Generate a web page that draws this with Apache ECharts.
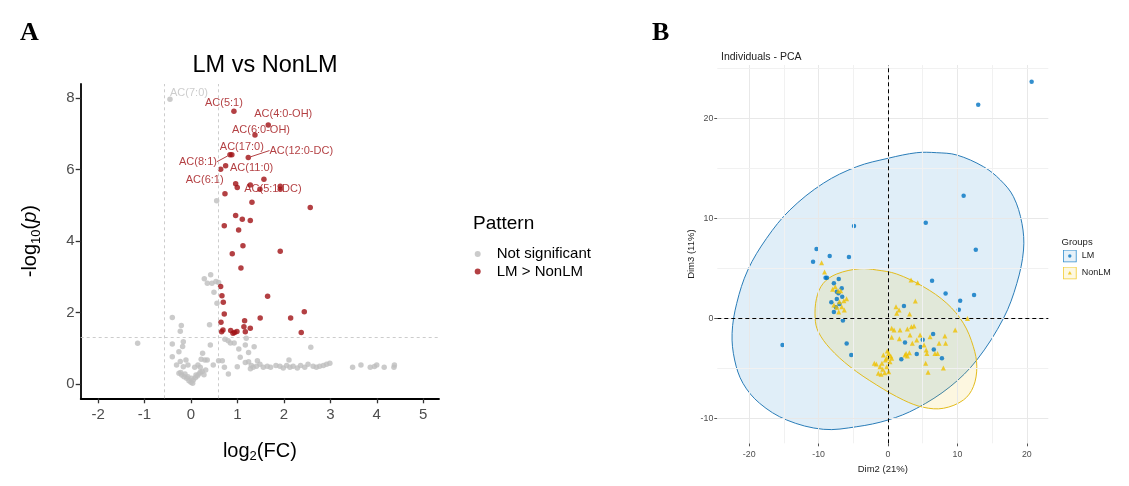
<!DOCTYPE html>
<html><head><meta charset="utf-8">
<script src="https://cdn.jsdelivr.net/npm/echarts@6/dist/echarts.min.js"></script>
<style>html,body{margin:0;padding:0;background:#fff}#c{width:1129px;height:486px}</style>
</head><body><div id="c"></div>
<script>
// ---------- Panel A: volcano data ----------
const volcanoXTicks = [-2, -1, 0, 1, 2, 3, 4, 5];
const volcanoYTicks = [0, 2, 4, 6, 8];
const fcCut = [-0.585, 0.585];
const pCut = [1.301];
const notSigPoints = [
  [-0.452,7.97],[0.553,5.13],
  [0.287,2.95],[0.424,3.06],[0.352,2.82],[0.452,2.82],[0.538,2.87],[0.595,2.84],[0.495,2.57],[0.56,2.26],
  [-0.402,1.86],[-0.208,1.64],[-0.23,1.48],[0.40,1.66],
  [-1.148,1.14],[-0.402,1.12],[-0.165,1.18],[-0.18,1.05],[0.417,1.09],[-0.26,0.905],[-0.402,0.765],[-0.108,0.67],
  [-0.31,0.53],[-0.165,0.48],[-0.065,0.53],[-0.23,0.63],[0.25,0.86],[0.22,0.69],[0.30,0.67],[0.35,0.67],[0.48,0.53],
  [0.15,0.53],[0.2,0.47],[0.08,0.47],[0.317,0.39],[0.24,0.35],[0.28,0.26],
  [-0.258,0.298],[-0.2,0.25],[-0.15,0.205],[-0.093,0.159],[-0.043,0.094],[0,0.047],[0.036,0.019],[0.05,0.112],
  [0.093,0.177],[0.136,0.224],[0.172,0.28],[0.108,0.25],[0.014,0.159],[-0.065,0.205],[-0.129,0.28],[-0.22,0.32],[0.2,0.33],
  [0.595,0.65],[0.674,0.65],[0.72,0.47],[0.806,0.28],[0.73,1.25],[0.80,1.21],[0.85,1.15],[0.93,1.15],[1.03,0.98],
  [1.17,1.09],[1.19,1.28],[1.24,0.88],[1.36,1.04],[1.06,0.75],[1.17,0.60],[1.24,0.62],[0.997,0.48],[2.58,1.03],
  [1.43,0.65],[2.11,0.67],[1.28,0.43],[1.34,0.47],
  [1.30,0.52],[1.41,0.50],[1.485,0.55],[1.557,0.47],[1.643,0.50],[1.714,0.47],[1.83,0.52],[1.915,0.50],[1.987,0.45],
  [2.06,0.52],[2.13,0.47],[2.2,0.50],[2.29,0.45],[2.36,0.52],[2.45,0.47],[2.52,0.55],[2.63,0.50],[2.70,0.47],
  [2.77,0.50],[2.85,0.52],[2.92,0.55],[2.99,0.58],
  [3.48,0.47],[3.66,0.53],[3.86,0.47],[3.95,0.49],[4.0,0.53],[4.16,0.47],[4.37,0.47],[4.38,0.53]
];
const notSigNames = ['AC(7:0)'];
const lmUpPoints = [
  [0.925,7.64],[1.664,7.25],[1.378,6.97],[0.84,6.42],[0.88,6.42],[1.234,6.34],[0.746,6.11],[0.639,6.01],
  [1.571,5.73],[0.962,5.61],[0.997,5.50],[1.277,5.57],[1.485,5.45],[1.922,5.54],[1.922,5.45],[0.732,5.33],
  [1.313,5.09],[2.568,4.94],[0.962,4.72],[1.105,4.61],[1.277,4.58],[0.717,4.43],[1.026,4.31],[1.119,3.87],
  [0.889,3.65],[1.922,3.72],[1.076,3.25],[0.639,2.73],[0.667,2.47],[0.696,2.29],[0.717,1.96],[1.65,2.46],
  [2.44,2.02],[2.146,1.85],[1.49,1.85],[1.155,1.77],[0.646,1.73],[1.14,1.60],[1.277,1.56],[0.689,1.51],
  [0.66,1.46],[0.855,1.50],[0.905,1.42],[0.99,1.47],[1.17,1.46],[2.374,1.44],[0.94,1.44]
];
const lmUpNames = ['AC(5:1)','AC(4:0-OH)','AC(6:0-OH)','AC(8:1)','AC(17:0)','AC(12:0-DC)','AC(11:0)','AC(6:1)',
  '','','','','AC(5:1-DC)'];

// ---------- Panel B: PCA data ----------
const pcaXTicks = [-20, -10, 0, 10, 20];
const pcaYTicks = [-10, 0, 10, 20];
const pcaXGrid = [-20, -15, -10, -5, 0, 5, 10, 15, 20];
const pcaYGrid = [-10, -5, 0, 5, 10, 15, 20, 25];
const lmPoints = [
  [20.7,23.7],[13.0,21.4],[10.9,12.3],[5.44,9.6],[-4.9,9.27],
  [-10.3,6.97],[-10.8,5.7],[-8.4,6.27],[-5.63,6.17],[12.65,6.9],
  [-9.0,4.1],[-8.8,4.1],[-7.1,3.97],[-7.8,3.54],[-6.67,3.04],[-7.38,2.7],[-7.14,2.54],[-8.17,1.64],[-7.38,1.97],
  [-6.6,2.2],[-7.0,1.47],[-7.5,1.14],[-7.8,0.67],[-6.5,-0.17],[-5.96,-2.47],[-5.3,-3.63],[-15.2,-2.63],
  [6.35,3.8],[8.3,2.53],[12.4,2.37],[10.4,1.8],[10.2,0.9],[2.3,1.27],[6.5,-1.53],[5.0,-2.1],[2.45,-2.37],
  [4.72,-2.83],[6.6,-3.07],[4.14,-3.53],[7.77,-3.96],[1.92,-4.06]
];
const nonLmPoints = [
  [-9.57,5.6],[-9.14,4.67],[-7.98,2.94],[-7.6,3.2],[-7.17,2.77],[-6.83,2.8],[-5.97,2.0],[-6.36,1.8],[-7.38,1.14],
  [-7.1,0.67],[-6.67,1.2],[-7.0,1.7],[-7.8,1.37],[-6.3,0.87],[3.32,3.87],[4.28,3.6],[3.94,1.77],[3.12,0.47],
  [1.25,0.54],[1.59,0.87],[11.45,0.03],[9.68,-1.13],[0.53,-0.96],[0.87,-1.13],[1.73,-1.13],[2.79,-1.03],
  [3.37,-0.8],[3.75,-0.73],[3.17,-1.63],[4.62,-1.63],[6.06,-1.8],[7.36,-2.46],[8.2,-1.73],[8.3,-2.46],[5.5,-3.13],
  [6.76,-3.47],[7.14,-3.47],[5.43,-4.46],[7.98,-4.93],[5.77,-5.36],[2.6,-3.47],[2.79,-3.73],[0.53,-1.86],
  [1.64,-2.0],[3.5,-2.46],[4.14,-2.13],[5.2,-2.63],[-0.1,-3.23],[0.1,-3.47],[0.39,-3.73],[-0.19,-3.96],
  [-0.67,-3.63],[-0.38,-4.13],[-0.87,-4.46],[-1.15,-4.8],[-0.77,-5.06],[-0.48,-5.4],[-1.4,-5.46],[-1.0,-5.56],
  [-1.68,-4.53],[-0.19,-4.8],[0.29,-4.3],[0.53,-3.96],[0.1,-5.3],[-1.97,-4.46],[2.45,-3.63],[3.08,-3.4],
  [5.6,-3.47],[1.15,1.2]
];
// confidence ellipse outlines
const lmEllipse = [
  [4.14,16.6],[0,16.04],[-4.5,15.2],[-9.33,13.54],[-14.14,10.87],[-17.5,8.04],[-20.2,4.87],[-21.8,1.54],
  [-22.47,-1.46],[-22.1,-4.13],[-20.9,-6.46],[-18.5,-8.46],[-14.6,-10.13],[-9.33,-11.06],[-4.5,-10.8],
  [0,-10.13],[4.14,-8.96],[8.95,-6.8],[12.8,-4.13],[16.64,0.04],[18.57,3.54],[19.53,6.87],[19.3,9.54],
  [18.08,12.2],[16.2,13.87],[13.76,15.2],[9.91,16.37],[7.02,16.6]
];
const nonLmEllipse = [
  [-10.5,0.04],[-10.3,2.04],[-9.33,3.54],[-7.4,4.47],[-4.04,5.0],[-1.63,4.87],[1.25,4.47],[5.1,3.2],
  [8.47,1.54],[10.87,-0.46],[12.3,-2.8],[12.8,-4.8],[12.3,-6.8],[10.87,-8.13],[7.98,-8.96],[5.1,-8.86],
  [2.21,-8.13],[-1.63,-6.63],[-5.48,-4.8],[-8.37,-2.96],[-10.05,-1.3]
];

// ---------- styling ----------
const SANS = 'Liberation Sans, Arial, sans-serif';
const RED = '#a01014';
const GREY = '#bebebe';
const BLUE = '#0073C2';
const YEL = '#EFC000';
const labelShift = {
  'AC(7:0)':[19,-6], 'AC(5:1)':[-10,-8], 'AC(4:0-OH)':[15,-11], 'AC(6:0-OH)':[6,-5], 'AC(17:0)':[10,-8],
  'AC(12:0-DC)':[53,-7], 'AC(8:1)':[-32,7], 'AC(11:0)':[26,2], 'AC(6:1)':[-16,11], 'AC(5:1-DC)':[13,0]
};
const withLine = ['AC(12:0-DC)', 'AC(8:1)'];

function pointItems(points, names, color) {
  return points.map((p, i) => {
    const n = names[i] || '';
    const it = { value: p, name: n };
    if (n) {
      it.label = { show: true, formatter: n, color: color };
      if (withLine.indexOf(n) >= 0) it.labelLine = { show: true, lineStyle: { color: color, width: 0.8 } };
    }
    return it;
  });
}
function iconSvg(fill, stroke, shape) {
  const mark = shape === 'circle'
    ? `<circle cx='7' cy='6.5' r='1.7' fill='${stroke}'/>`
    : `<polygon points='7,4.6 9,8 5,8' fill='${stroke}'/>`;
  const svg = `<svg xmlns='http://www.w3.org/2000/svg' width='14' height='13'><rect x='0.5' y='0.5' width='13' height='12' fill='${fill}' stroke='${stroke}' stroke-width='1'/>${mark}</svg>`;
  return 'image://data:image/svg+xml;charset=utf-8,' + encodeURIComponent(svg);
}
function ellipseSeries(outline, fill, stroke, z) {
  return {
    type: 'custom', xAxisIndex: 1, yAxisIndex: 1, z: z, silent: true, clip: true,
    data: [[0, 0]],
    renderItem: (params, api) => ({
      type: 'polygon',
      shape: { points: outline.map(p => api.coord(p)), smooth: 0.35 },
      style: { fill: fill, stroke: stroke, lineWidth: 1 }
    })
  };
}

const chart = echarts.init(document.getElementById('c'));
const option = {
  backgroundColor: '#fff',
  animation: false,
  textStyle: { fontFamily: SANS },
  title: [
    { text: 'A', left: 15, top: 15, textStyle: { fontFamily: 'Liberation Serif, serif', fontWeight: 'bold', fontSize: 26, color: '#000' } },
    { text: 'B', left: 647, top: 15, textStyle: { fontFamily: 'Liberation Serif, serif', fontWeight: 'bold', fontSize: 26, color: '#000' } },
    { text: 'LM vs NonLM', left: 260, top: 49, textAlign: 'center', textStyle: { fontFamily: SANS, fontWeight: 'normal', fontSize: 23.5, color: '#000' } },
    { text: 'Pattern', left: 468, top: 209, textStyle: { fontFamily: SANS, fontWeight: 'normal', fontSize: 19, color: '#000' } },
    { text: 'Individuals - PCA', left: 716, top: 47, textStyle: { fontFamily: SANS, fontWeight: 'normal', fontSize: 10.5, color: '#222' } },
    { text: 'Groups', left: 1056.5, top: 232, textStyle: { fontFamily: SANS, fontWeight: 'normal', fontSize: 9.5, color: '#222' } }
  ],
  legend: [
    {
      data: ['Not significant', 'LM > NonLM'], orient: 'vertical', left: 469.7, top: 241.5,
      icon: 'circle', itemWidth: 28, itemHeight: 6, itemGap: 2.4, selectedMode: false,
      textStyle: { fontSize: 15, color: '#000', fontFamily: SANS, lineHeight: 15 }
    },
    {
      data: [
        { name: 'LM', icon: iconSvg('#e1eef8', BLUE, 'circle') },
        { name: 'NonLM', icon: iconSvg('#fdf7dc', YEL, 'triangle') }
      ],
      orient: 'vertical', left: 1057.8, top: 244.5, itemWidth: 14, itemHeight: 13, itemGap: 4, selectedMode: false,
      textStyle: { fontSize: 9, color: '#222', fontFamily: SANS }
    }
  ],
  grid: [
    { left: 80.7, top: 84, width: 358.3, height: 314.3 },
    { left: 717.3, top: 65, width: 331, height: 378.3 }
  ],
  xAxis: [
    {
      type: 'value', gridIndex: 0, min: -2.374, max: 5.34,
      axisLine: { show: true, onZero: false, lineStyle: { color: '#000', width: 1.8 } },
      axisTick: { show: true, customValues: volcanoXTicks, length: 5, lineStyle: { color: '#333', width: 1.3 } },
      axisLabel: { customValues: volcanoXTicks, fontSize: 15, color: '#4d4d4d', margin: 9, fontFamily: SANS },
      splitLine: { show: false },
      name: 'log{sub|2}(FC)', nameLocation: 'middle', nameGap: 41,
      nameTextStyle: { fontSize: 20, color: '#000', fontFamily: SANS, lineHeight: 24,
        rich: { sub: { fontSize: 13, lineHeight: 13, verticalAlign: 'bottom', fontFamily: SANS, color: '#000' } } }
    },
    {
      type: 'value', gridIndex: 1, min: -24.6, max: 23.1,
      axisLine: { show: false, onZero: false },
      axisTick: { show: true, customValues: pcaXTicks, length: 3, lineStyle: { color: '#555', width: 1 } },
      axisLabel: { customValues: pcaXTicks, fontSize: 8.8, color: '#4d4d4d', margin: 7, fontFamily: SANS },
      splitLine: { show: false },
      name: 'Dim2 (21%)', nameLocation: 'middle', nameGap: 17,
      nameTextStyle: { fontSize: 9.5, color: '#222', fontFamily: SANS }
    }
  ],
  yAxis: [
    {
      type: 'value', gridIndex: 0, min: -0.40, max: 8.40,
      axisLine: { show: true, onZero: false, lineStyle: { color: '#000', width: 1.8 } },
      axisTick: { show: true, customValues: volcanoYTicks, length: 5, lineStyle: { color: '#333', width: 1.3 } },
      axisLabel: { customValues: volcanoYTicks, fontSize: 15, color: '#4d4d4d', margin: 6, fontFamily: SANS },
      splitLine: { show: false },
      name: '-log{sub|10}({it|p})', nameLocation: 'middle', nameGap: 38,
      nameTextStyle: { fontSize: 20, color: '#000', fontFamily: SANS, lineHeight: 24,
        rich: {
          sub: { fontSize: 13, lineHeight: 13, verticalAlign: 'bottom', fontFamily: SANS, color: '#000' },
          it: { fontSize: 20, fontStyle: 'italic', fontFamily: SANS, color: '#000', lineHeight: 24 }
        } }
    },
    {
      type: 'value', gridIndex: 1, min: -12.46, max: 25.37,
      axisLine: { show: false, onZero: false },
      axisTick: { show: true, customValues: pcaYTicks, length: 3, lineStyle: { color: '#555', width: 1 } },
      axisLabel: { customValues: pcaYTicks, fontSize: 8.8, color: '#4d4d4d', margin: 4, fontFamily: SANS },
      splitLine: { show: false },
      name: 'Dim3 (11%)', nameLocation: 'middle', nameGap: 16,
      nameTextStyle: { fontSize: 9.5, color: '#222', fontFamily: SANS }
    }
  ],
  series: [
    {
      type: 'scatter', xAxisIndex: 0, yAxisIndex: 0, data: [], z: 1, silent: true,
      markLine: {
        silent: true, symbol: 'none', label: { show: false }, animation: false,
        lineStyle: { color: '#c6c6c6', width: 0.9, type: [3, 3] },
        data: fcCut.map(v => ({ xAxis: v })).concat(pCut.map(v => ({ yAxis: v })))
      }
    },
    {
      name: 'Not significant', type: 'scatter', xAxisIndex: 0, yAxisIndex: 0, z: 3,
      symbol: 'circle', symbolSize: 5.5, itemStyle: { color: GREY },
      data: pointItems(notSigPoints, notSigNames, '#c0c0c0'),
      label: { show: false, position: 'inside', fontSize: 11, fontFamily: SANS },
      labelLayout: p => { const s = labelShift[p.text]; return s ? { dx: s[0], dy: s[1] } : {}; }
    },
    {
      name: 'LM > NonLM', type: 'scatter', xAxisIndex: 0, yAxisIndex: 0, z: 4,
      symbol: 'circle', symbolSize: 5.5, itemStyle: { color: RED },
      data: pointItems(lmUpPoints, lmUpNames, RED),
      label: { show: false, position: 'inside', fontSize: 11, fontFamily: SANS },
      labelLine: { show: false },
      labelLayout: p => { const s = labelShift[p.text]; return s ? { dx: s[0], dy: s[1] } : {}; }
    },
    {
      type: 'scatter', xAxisIndex: 1, yAxisIndex: 1, data: [], z: 0, silent: true,
      markLine: {
        silent: true, symbol: 'none', label: { show: false }, animation: false,
        data: pcaXGrid.map(v => ({ xAxis: v, lineStyle: { color: v % 10 === 0 ? '#e8e8e8' : '#f1f1f1', width: 1, type: 'solid' } }))
          .concat(pcaYGrid.map(v => ({ yAxis: v, lineStyle: { color: v % 10 === 0 ? '#e8e8e8' : '#f1f1f1', width: 1, type: 'solid' } })))
      }
    },
    ellipseSeries(lmEllipse, 'rgba(0,115,194,0.12)', '#2a7db8', 1),
    ellipseSeries(nonLmEllipse, 'rgba(239,192,0,0.12)', '#e3bc1c', 2),
    {
      type: 'scatter', xAxisIndex: 1, yAxisIndex: 1, data: [], z: 3, silent: true,
      markLine: {
        silent: true, symbol: 'none', label: { show: false }, animation: false,
        lineStyle: { color: '#000', width: 1, type: [4, 3] },
        data: [{ xAxis: 0 }, { yAxis: 0 }]
      }
    },
    {
      name: 'LM', type: 'scatter', xAxisIndex: 1, yAxisIndex: 1, z: 4,
      symbol: 'circle', symbolSize: 4.5, itemStyle: { color: BLUE }, data: lmPoints
    },
    {
      name: 'NonLM', type: 'scatter', xAxisIndex: 1, yAxisIndex: 1, z: 5,
      symbol: 'triangle', symbolSize: 5, itemStyle: { color: YEL }, data: nonLmPoints
    }
  ]
};
chart.setOption(option);
</script></body></html>
